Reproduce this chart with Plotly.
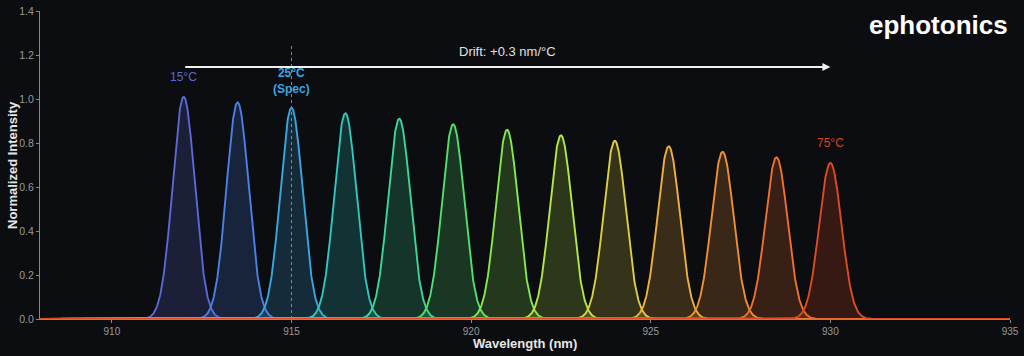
import numpy as np
import plotly.graph_objects as go

# ---- data ----
temps_c = [15, 20, 25, 30, 35, 40, 45, 50, 55, 60, 65, 70, 75]
centers_nm = [912.0, 913.5, 915.0, 916.5, 918.0, 919.5, 921.0, 922.5, 924.0, 925.5, 927.0, 928.5, 930.0]
peak_heights = [1.01, 0.985, 0.96, 0.935, 0.91, 0.885, 0.86, 0.835, 0.81, 0.785, 0.76, 0.735, 0.71]
sigma_nm = 0.31
colors = ["#5b68d6", "#4a80e8", "#3aa6e0", "#2ec8c0", "#3ad898", "#50e070",
          "#86e850", "#b4e848", "#dcd040", "#f0b040", "#f09030", "#f07030", "#e04a20"]
x_ticks = [910, 915, 920, 925, 930, 935]
y_ticks = [0.0, 0.2, 0.4, 0.6, 0.8, 1.0, 1.2, 1.4]
spec_wavelength = 915.0
drift_start, drift_end = 912.0, 930.0


def rgba(hexc, a):
    h = hexc.lstrip("#")
    r, g, b = int(h[0:2], 16), int(h[2:4], 16), int(h[4:6], 16)
    return f"rgba({r},{g},{b},{a})"


wl = np.linspace(908, 935, 2700)
fig = go.Figure()
for t, c, h, col in zip(temps_c, centers_nm, peak_heights, colors):
    y = h * np.exp(-((wl - c) ** 2) / (2 * sigma_nm ** 2))
    fig.add_trace(go.Scatter(
        x=wl, y=y, mode="lines", name=f"{t}°C",
        line=dict(color=col, width=1.9),
        fill="tozeroy", fillcolor=rgba(col, 0.2),
        hoverinfo="skip", showlegend=False,
    ))

# spec line
fig.add_shape(type="line", x0=spec_wavelength, x1=spec_wavelength, y0=0, y1=1.25,
              xref="x", yref="y", line=dict(color="#8a8a8a", width=1, dash="dot"))

# drift arrow
fig.add_annotation(x=drift_end, y=1.145, ax=drift_start, ay=1.145,
                   xref="x", yref="y", axref="x", ayref="y",
                   showarrow=True, arrowhead=2, arrowsize=0.8, arrowwidth=2,
                   arrowcolor="#f0f0f0", text="")
fig.add_annotation(x=921.0, y=1.218, xref="x", yref="y", text="Drift: +0.3 nm/°C",
                   showarrow=False, font=dict(color="#e0e0e0", size=13))

fig.add_annotation(x=centers_nm[0], y=1.10, xref="x", yref="y", text=f"{temps_c[0]}°C",
                   showarrow=False, font=dict(color=colors[0], size=12))
fig.add_annotation(x=centers_nm[2], y=1.08, xref="x", yref="y",
                   text=f"<b>{temps_c[2]}°C<br>(Spec)</b>",
                   showarrow=False, font=dict(color=colors[2], size=12))
fig.add_annotation(x=centers_nm[-1], y=0.80, xref="x", yref="y", text=f"{temps_c[-1]}°C",
                   showarrow=False, font=dict(color="#d8441e", size=12))

# logo
fig.add_annotation(x=1.0, y=0.955, xref="paper", yref="paper", xanchor="right", yanchor="middle",
                   text="<b>ephotonics</b>", showarrow=False,
                   font=dict(color="#ffffff", size=26, family="Liberation Sans, Arial, sans-serif"))

# axis titles
fig.add_annotation(x=0.5, y=-0.079, xref="paper", yref="paper", xanchor="center", yanchor="middle",
                   text="<b>Wavelength (nm)</b>", showarrow=False,
                   font=dict(color="#e6e6e6", size=13))
fig.add_annotation(x=-0.0289, y=0.5, xref="paper", yref="paper", xanchor="center", yanchor="middle",
                   text="<b>Normalized Intensity</b>", showarrow=False, textangle=-90,
                   font=dict(color="#e6e6e6", size=13))

fig.update_layout(
    width=1024, height=356,
    margin=dict(l=40, r=14, t=11, b=37),
    paper_bgcolor="#0c0d11", plot_bgcolor="#0c0d11",
    font=dict(family="Liberation Sans, Arial, sans-serif", color="#9a9a9a", size=10),
)
fig.update_xaxes(range=[908, 935], tickvals=x_ticks, ticks="outside", ticklen=3,
                 tickcolor="#888", showgrid=False, zeroline=False, automargin=False,
                 showline=True, linecolor="#888", linewidth=1,
                 tickfont=dict(color="#9a9a9a", size=10))
fig.update_yaxes(range=[0, 1.4], tickvals=y_ticks, tickformat=".1f", ticks="outside", ticklen=3,
                 tickcolor="#888", showgrid=False, zeroline=False, automargin=False,
                 showline=True, linecolor="#888", linewidth=1,
                 tickfont=dict(color="#9a9a9a", size=10.5))

fig.write_html("out.html")
